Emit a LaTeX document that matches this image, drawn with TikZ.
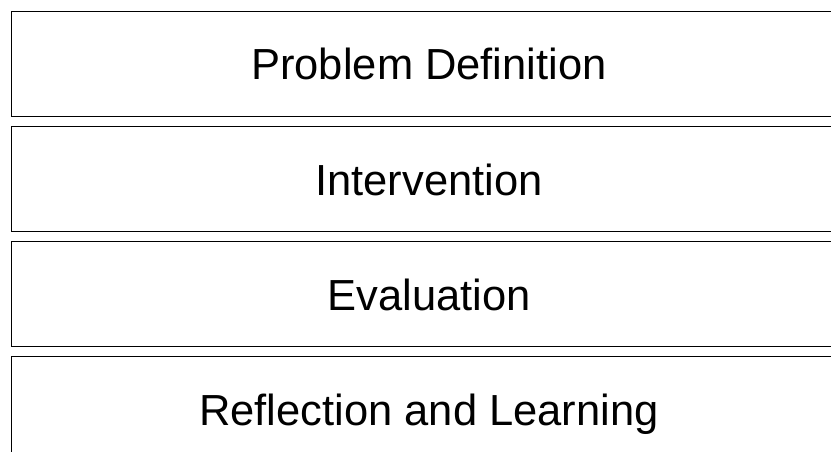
\documentclass[tikz,border=0pt]{standalone}
\usepackage{fontspec}
\setmainfont{Liberation Sans}
\begin{document}
\begin{tikzpicture}[x=1pt,y=-1pt,
  stage/.style={draw=black, line width=1pt, anchor=north west,
    minimum width=836pt, minimum height=105pt, inner sep=0pt},
  stagetext/.style={anchor=base, inner sep=0pt,
    font=\fontsize{43.5pt}{52pt}\selectfont}]
  \useasboundingbox (0,0) rectangle (831,451);
  \clip (0,0) rectangle (831,451);
  % stacked stage boxes, each running off the right edge
  \node[stage] (b1) at (10.5,10.5) {};
  \node[stage] (b2) at (10.5,126) {};
  \node[stage] (b3) at (10.5,241) {};
  \node[stage] (b4) at (10.5,356) {};
  % stage titles, set on a common baseline inside each box
  \node[stagetext] (t1) at ([yshift=-69pt]b1.north) {Problem Definition};
  \node[stagetext] (t2) at ([yshift=-69pt]b2.north) {Intervention};
  \node[stagetext] (t3) at ([yshift=-69pt]b3.north) {Evaluation};
  \node[stagetext] (t4) at ([yshift=-69pt]b4.north) {Reflection and Learning};
\end{tikzpicture}
\end{document}
